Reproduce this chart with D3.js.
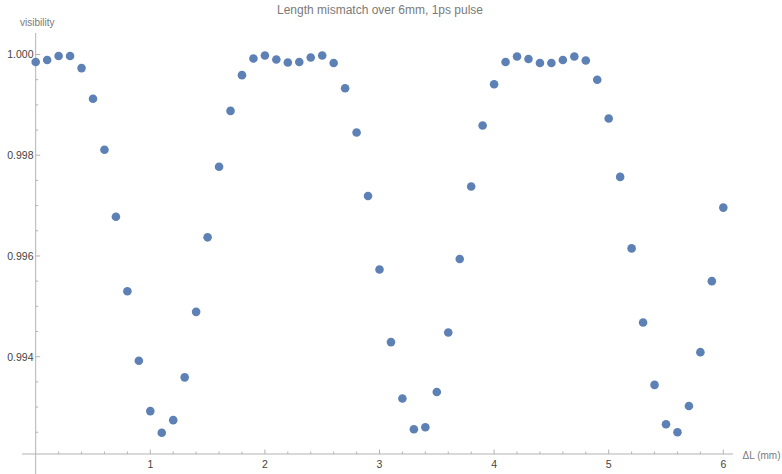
<!DOCTYPE html>
<html>
<head>
<meta charset="utf-8">
<script src="https://cdn.jsdelivr.net/npm/d3@7"></script>
<style>
  html, body { margin: 0; padding: 0; background: #fff; }
  svg { display: block; font-family: "Liberation Sans", Arial, sans-serif; }
</style>
</head>
<body>
<svg id="chart" width="782" height="474"></svg>
<script>
// Path length mismatch (mm), sampled every 0.1 mm
const mismatch = [
  0.0, 0.1, 0.2, 0.3, 0.4, 0.5, 0.6, 0.7, 0.8, 0.9,
  1.0, 1.1, 1.2, 1.3, 1.4, 1.5, 1.6, 1.7, 1.8, 1.9,
  2.0, 2.1, 2.2, 2.3, 2.4, 2.5, 2.6, 2.7, 2.8, 2.9,
  3.0, 3.1, 3.2, 3.3, 3.4, 3.5, 3.6, 3.7, 3.8, 3.9,
  4.0, 4.1, 4.2, 4.3, 4.4, 4.5, 4.6, 4.7, 4.8, 4.9,
  5.0, 5.1, 5.2, 5.3, 5.4, 5.5, 5.6, 5.7, 5.8, 5.9,
  6.0
];

// Interference visibility at each mismatch
const visibility = [
  0.99985, 0.99989, 0.99997, 0.99997, 0.99973, 0.99912, 0.99811, 0.99678, 0.99530, 0.99392,
  0.99292, 0.99249, 0.99274, 0.99359, 0.99489, 0.99637, 0.99777, 0.99888, 0.99959, 0.99992,
  0.99998, 0.99990, 0.99984, 0.99985, 0.99994, 0.99998, 0.99983, 0.99933, 0.99845, 0.99719,
  0.99573, 0.99429, 0.99317, 0.99256, 0.99260, 0.99330, 0.99448, 0.99594, 0.99738, 0.99859,
  0.99941, 0.99985, 0.99996, 0.99991, 0.99983, 0.99983, 0.99989, 0.99996, 0.99988, 0.99950,
  0.99873, 0.99757, 0.99615, 0.99468, 0.99344, 0.99266, 0.99250, 0.99302, 0.99409, 0.99550,
  0.99696
];

const xMajorTicks = [1, 2, 3, 4, 5, 6];
const yMajorTicks = [0.994, 0.996, 0.998, 1.000];
const yTickLabels = ["0.994", "0.996", "0.998", "1.000"];

const titleText = "Length mismatch over 6mm, 1ps pulse";
const xLabelText = "\u0394L (mm)";
const yLabelText = "visibility";

const points = mismatch.map((m, i) => ({ x: m, y: visibility[i] }));

const svg = d3.select("#chart");

const x = d3.scaleLinear().domain([0, 6]).range([35.7, 723.3]);
const y = d3.scaleLinear().domain([0.994, 1.000]).range([356.7, 54.5]);

const axisColor = "#b3b3b3";
const labelColor = "#444";
const titleColor = "#7a7a7a";

const xAxisY = 454;
const yAxisX = x(0);

// Axis lines
svg.append("line")
  .attr("x1", 22).attr("x2", 733)
  .attr("y1", xAxisY).attr("y2", xAxisY)
  .attr("stroke", axisColor).attr("stroke-width", 1);
svg.append("line")
  .attr("x1", yAxisX).attr("x2", yAxisX)
  .attr("y1", 33).attr("y2", 474)
  .attr("stroke", axisColor).attr("stroke-width", 1);

// X ticks: majors every 1, minors every 0.2
const xMinor = d3.range(0, 30.5, 1).map(v => v / 5)
  .filter(v => !xMajorTicks.some(t => Math.abs(t - v) < 1e-9) && v > 0);
svg.append("g").selectAll("line").data(xMinor).join("line")
  .attr("x1", d => x(d)).attr("x2", d => x(d))
  .attr("y1", xAxisY).attr("y2", xAxisY - 2.5)
  .attr("stroke", axisColor);
svg.append("g").selectAll("line").data(xMajorTicks).join("line")
  .attr("x1", d => x(d)).attr("x2", d => x(d))
  .attr("y1", xAxisY).attr("y2", xAxisY - 4.5)
  .attr("stroke", axisColor);
svg.append("g").selectAll("text").data(xMajorTicks).join("text")
  .attr("x", d => x(d)).attr("y", 468)
  .attr("text-anchor", "middle")
  .attr("font-size", 10.5).attr("fill", labelColor)
  .text(d => d);

// Y ticks: majors every 0.002, minors every 0.0005
const yMinor = d3.range(0, 17, 1).map(k => 0.992 + k * 0.0005)
  .filter(v => !yMajorTicks.some(t => Math.abs(t - v) < 1e-9) && y(v) < xAxisY && y(v) > 33);
svg.append("g").selectAll("line").data(yMinor).join("line")
  .attr("x1", yAxisX).attr("x2", yAxisX + 2.5)
  .attr("y1", d => y(d)).attr("y2", d => y(d))
  .attr("stroke", axisColor);
svg.append("g").selectAll("line").data(yMajorTicks).join("line")
  .attr("x1", yAxisX).attr("x2", yAxisX + 4.5)
  .attr("y1", d => y(d)).attr("y2", d => y(d))
  .attr("stroke", axisColor);
svg.append("g").selectAll("text").data(yMajorTicks).join("text")
  .attr("x", 33.5).attr("y", d => y(d) + 3.8)
  .attr("text-anchor", "end")
  .attr("font-size", 10.5).attr("fill", labelColor)
  .text((d, i) => yTickLabels[i]);

// Title and axis labels
svg.append("text")
  .attr("x", 380).attr("y", 14)
  .attr("text-anchor", "middle")
  .attr("font-size", 12).attr("fill", titleColor)
  .text(titleText);
svg.append("text")
  .attr("x", 20).attr("y", 26)
  .attr("font-size", 10).attr("fill", titleColor)
  .text(yLabelText);
svg.append("text")
  .attr("x", 780.5).attr("y", 459)
  .attr("text-anchor", "end")
  .attr("font-size", 10).attr("fill", titleColor)
  .text(xLabelText);

// Data points
svg.append("g").selectAll("circle").data(points).join("circle")
  .attr("cx", d => x(d.x))
  .attr("cy", d => y(d.y))
  .attr("r", 4.3)
  .attr("fill", "#5E81B5");
</script>
</body>
</html>
